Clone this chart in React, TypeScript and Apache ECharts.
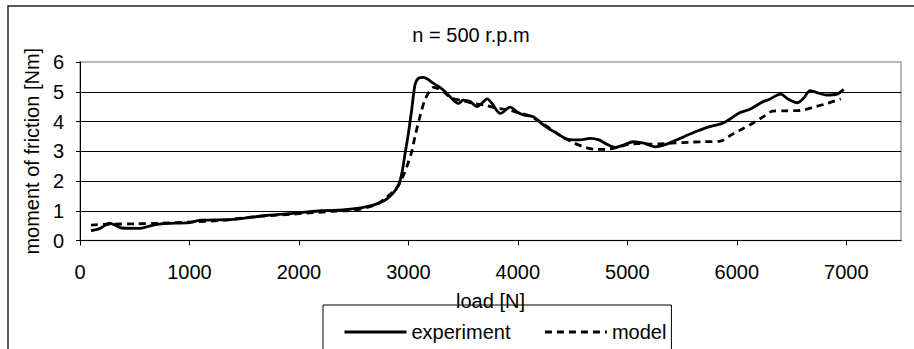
import React, { useEffect, useRef } from "react";
import * as echarts from "echarts";

const titleText = "n = 500 r.p.m";
const xAxisName = "load [N]";
const yAxisName = "moment of friction [Nm]";
const seriesNames = ["experiment", "model"];
const xTicks = [0, 1000, 2000, 3000, 4000, 5000, 6000, 7000];

const experimentX = [
  100, 180, 270, 330, 380, 550, 650, 760, 1000, 1100, 1400, 1700, 2000, 2200,
  2400, 2530, 2680, 2790, 2860, 2910, 2940, 2970, 3000, 3030, 3060, 3090, 3135,
  3230, 3320, 3410, 3460, 3500, 3565, 3625, 3670, 3720, 3765, 3840, 3930, 3990,
  4050, 4140, 4235, 4355, 4460, 4570, 4660, 4740, 4810, 4890, 4965, 5055, 5150,
  5255, 5360, 5480, 5600, 5730, 5880, 6030, 6120, 6230, 6300, 6400, 6470, 6550,
  6610, 6670, 6750, 6820, 6915, 6976,
];
const experimentY = [
  0.33, 0.4, 0.58, 0.5, 0.42, 0.41, 0.5, 0.57, 0.6, 0.68, 0.71, 0.84, 0.93, 1.0,
  1.03, 1.08, 1.19, 1.36, 1.59, 1.87, 2.26, 2.93, 3.6, 4.39, 5.23, 5.45, 5.48,
  5.28, 5.06, 4.72, 4.61, 4.72, 4.67, 4.5, 4.61, 4.76, 4.6, 4.27, 4.48, 4.33,
  4.22, 4.16, 3.88, 3.6, 3.4, 3.38, 3.43, 3.38, 3.24, 3.13, 3.21, 3.32, 3.27,
  3.15, 3.24, 3.43, 3.62, 3.8, 3.96, 4.3, 4.41, 4.65, 4.75, 4.92, 4.75, 4.63,
  4.78, 5.04, 4.95, 4.89, 4.92, 5.08,
];

const modelX = [
  100, 300, 500, 700, 1000, 1300, 1600, 2000, 2300, 2500, 2700, 2800, 2900, 2950,
  2985, 3030, 3060, 3105, 3150, 3200, 3230, 3300, 3400, 3500, 3600, 3700, 3800,
  3900, 4000, 4100, 4200, 4300, 4400, 4500, 4600, 4700, 4800, 4900, 5000, 5100,
  5200, 5300, 5400, 5500, 5600, 5700, 5850, 5950, 6050, 6150, 6250, 6330, 6450,
  6580, 6700, 6820, 6950,
];
const modelY = [
  0.52, 0.55, 0.56, 0.58, 0.62, 0.68, 0.8, 0.9, 0.98, 1.02, 1.2, 1.45, 1.8, 2.15,
  2.48, 2.98, 3.49, 4.16, 4.72, 5.06, 5.15, 5.05, 4.78, 4.7, 4.6, 4.55, 4.45,
  4.4, 4.3, 4.2, 4.0, 3.75, 3.5, 3.3, 3.15, 3.07, 3.06, 3.12, 3.22, 3.26, 3.24,
  3.25, 3.27, 3.29, 3.31, 3.32, 3.34, 3.55, 3.75, 3.95, 4.18, 4.35, 4.36, 4.37,
  4.48, 4.6, 4.76,
];

const FONT = "'Liberation Sans', Arial, sans-serif";

export default function App() {
  const ref = useRef<HTMLDivElement>(null);
  useEffect(() => {
    document.body.style.margin = "0";
    const chart = echarts.init(ref.current!, null, { renderer: "svg" });
    const expData = experimentX.map((x, i) => [x, experimentY[i]]);
    const modData = modelX.map((x, i) => [x, modelY[i]]);
    chart.setOption({
      animation: false,
      backgroundColor: "#fff",
      textStyle: { fontFamily: FONT, color: "#000" },
      title: {
        text: titleText,
        left: 466,
        top: 20,
        textAlign: "center",
        textStyle: { fontFamily: FONT, fontSize: 20, fontWeight: "normal", color: "#000" },
      },
      graphic: [
        {
          type: "rect",
          shape: { x: 8, y: 6, width: 930, height: 380 },
          style: { fill: "none", stroke: "#222", lineWidth: 1.5 },
          silent: true,
          z: -1,
        },
      ],
      grid: {
        left: 80,
        top: 62,
        right: 13,
        bottom: 108.5,
        show: true,
        borderColor: "#a0a0a0",
        borderWidth: 1.5,
        backgroundColor: "transparent",
      },
      legend: {
        left: 323,
        top: 305,
        orient: "horizontal",
        padding: [17, 5, 20, 20],
        itemWidth: 62,
        itemHeight: 20,
        itemGap: 33,
        borderColor: "#000",
        borderWidth: 1,
        textStyle: { fontFamily: FONT, fontSize: 20, color: "#000" },
        lineStyle: { width: 3 },
        itemStyle: { opacity: 0, borderWidth: 0 },
        data: seriesNames.map((n) => ({ name: n, itemStyle: { opacity: 0, borderWidth: 0 } })),
      },
      xAxis: {
        type: "value",
        min: 0,
        max: 7500,
        interval: 1000,
        name: xAxisName,
        nameLocation: "middle",
        nameGap: 50,
        nameTextStyle: { fontFamily: FONT, fontSize: 20, color: "#000" },
        axisLine: { show: true, lineStyle: { color: "#000", width: 1 } },
        axisTick: { show: true, length: 5, lineStyle: { color: "#000" }, customValues: xTicks },
        axisLabel: {
          fontFamily: FONT,
          fontSize: 20,
          color: "#000",
          margin: 21,
          customValues: xTicks,
          formatter: (v: number) => String(v),
        },
        splitLine: { show: false },
      },
      yAxis: {
        type: "value",
        min: 0,
        max: 6,
        interval: 1,
        name: yAxisName,
        nameLocation: "middle",
        nameRotate: 90,
        nameGap: 35,
        nameTextStyle: { fontFamily: FONT, fontSize: 20, color: "#000" },
        axisLine: { show: true, lineStyle: { color: "#000", width: 1 } },
        axisTick: { show: true, length: 4, lineStyle: { color: "#000" } },
        axisLabel: { fontFamily: FONT, fontSize: 20, color: "#000", margin: 16 },
        splitLine: {
          show: true,
          showMinLine: false,
          showMaxLine: false,
          lineStyle: { color: "#000", width: 1 },
        },
      },
      series: [
        {
          name: seriesNames[0],
          type: "line",
          data: expData,
          showSymbol: false,
          symbol: "none",
          smooth: 0.3,
          lineStyle: { color: "#000", width: 2.8, type: "solid" },
          itemStyle: { color: "#000" },
          z: 3,
        },
        {
          name: seriesNames[1],
          type: "line",
          data: modData,
          showSymbol: false,
          symbol: "none",
          smooth: 0.3,
          lineStyle: { color: "#000", width: 2.8, type: [7, 5] },
          itemStyle: { color: "#000" },
          z: 2,
        },
      ],
    });
    return () => chart.dispose();
  }, []);
  return <div ref={ref} style={{ width: 914, height: 349 }} />;
}
